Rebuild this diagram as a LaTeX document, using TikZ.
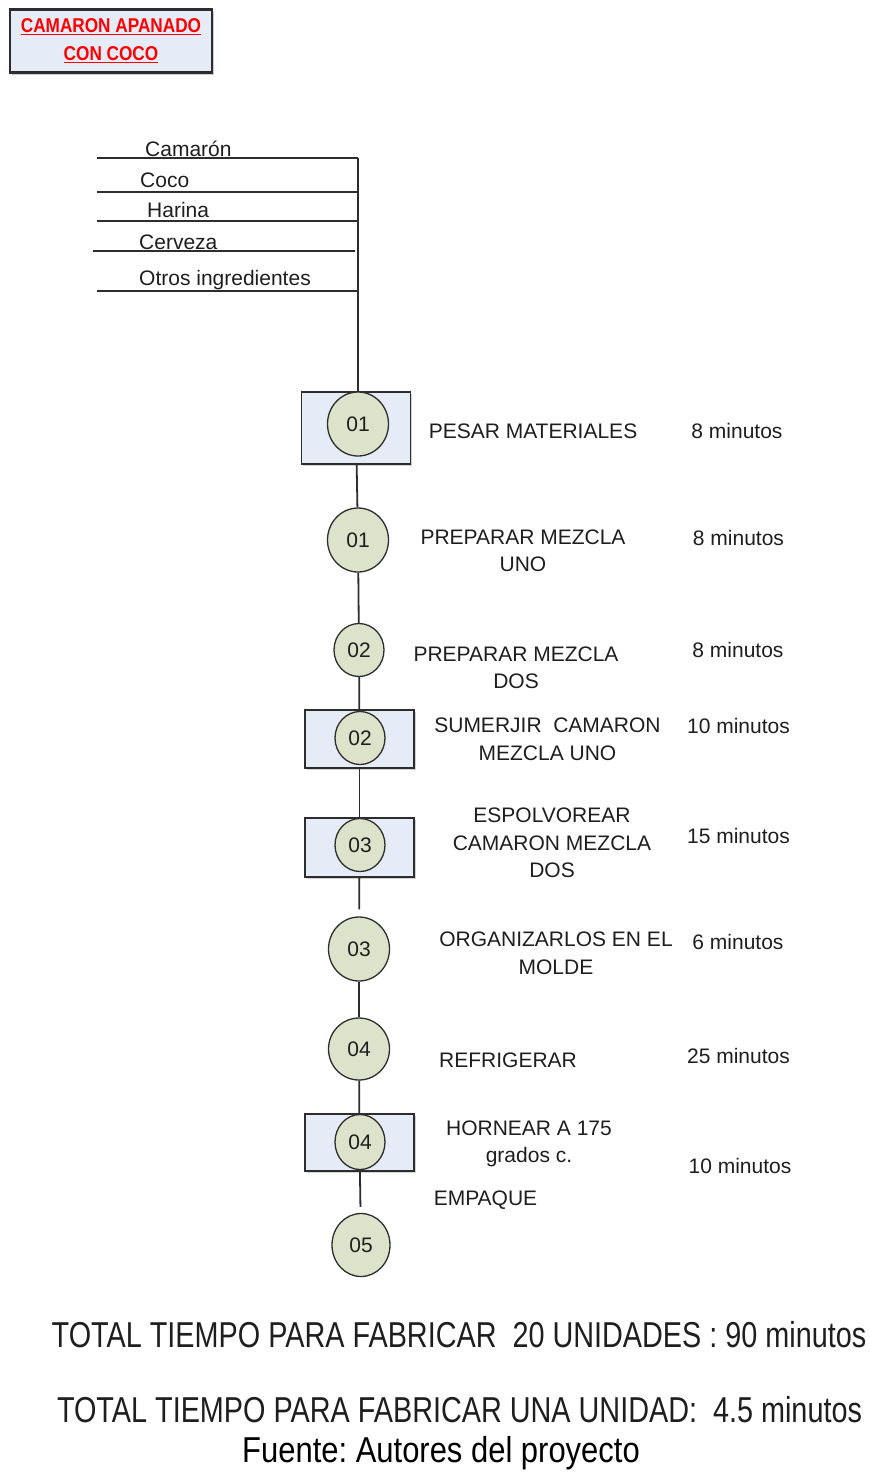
\documentclass[tikz,border=0pt]{standalone}
\usepackage{fontspec}
\setmainfont{Liberation Sans}
\newfontfamily\titlefont[FakeStretch=0.86]{Liberation Sans}
\newfontfamily\narrowfont[FakeStretch=0.8]{Liberation Sans}
\newfontfamily\srcfont[FakeStretch=0.86]{Liberation Sans}
\usetikzlibrary{shapes.geometric,shadows}
\definecolor{opfill}{RGB}{221,226,202}
\definecolor{boxfill}{RGB}{230,236,247}
\definecolor{edge}{RGB}{45,45,45}
\definecolor{ink}{RGB}{30,30,30}
\frenchspacing

\begin{document}
\begin{tikzpicture}[x=1pt, y=-1pt, auto,
      operation/.style ={ellipse, draw=edge, fill=opfill, line width=1.3pt, inner sep=0pt,
                         minimum width=61, minimum height=64, text=ink, font=\fontsize{21}{25}\selectfont},
      opsmall/.style ={operation, minimum width=50, minimum height=53},
      inspection/.style ={rectangle, draw=edge, fill=boxfill, line width=1.6pt, inner sep=0pt,
                          minimum width=109, minimum height=58,
                          drop shadow={shadow xshift=1.5pt, shadow yshift=-1.5pt, fill=gray!70}},
      label/.style ={align=center, text=ink, inner sep=0pt, font=\fontsize{21}{27.5}\selectfont},
      flow/.style ={draw=edge, line width=1.8pt}]
   \useasboundingbox (0,0) rectangle (870,1473);

   \node[rectangle, draw=edge, fill=boxfill, line width=2.2pt, minimum width=202, minimum height=63,
         inner sep=0pt, align=center, text=red, font=\titlefont\bfseries\fontsize{20}{28}\selectfont,
         drop shadow={shadow xshift=2pt, shadow yshift=-2pt, fill=gray!80}] (titulo) at (111,41)
         {\underline{CAMARON APANADO}\\\underline{CON COCO}};

   \coordinate (cam1) at (97,158);
   \coordinate (cam2) at (358,158);
   \coordinate (coc1) at (97,192);
   \coordinate (coc2) at (358,192);
   \coordinate (har1) at (97,221);
   \coordinate (har2) at (358,221);
   \coordinate (cer1) at (93,251);
   \coordinate (cer2) at (355,251);
   \coordinate (otr1) at (97,291);
   \coordinate (otr2) at (358,291);

   \node[label, anchor=base west] (tcam) at (145,156) {Camarón};
   \node[label, anchor=base west] (tcoc) at (140,187) {Coco};
   \node[label, anchor=base west] (thar) at (147,217) {Harina};
   \node[label, anchor=base west] (tcer) at (139,249) {Cerveza};
   \node[label, anchor=base west] (totr) at (139,285) {Otros ingredientes};

   \node[inspection, minimum height=72] (I1) at (356,428) {};
   \node[operation] (O1) at (358,424) {01};
   \node[operation] (O2) at (358,540) {01};
   \node[opsmall] (O3) at (359,650) {02};
   \node[inspection] (I2) at (359.5,739) {};
   \node[opsmall] (O4) at (360,738) {02};
   \node[inspection, minimum height=59] (I3) at (359.5,847.5) {};
   \node[opsmall] (O5) at (360,845) {03};
   \node[operation] (O6) at (359,949) {03};
   \node[operation, minimum height=62] (O7) at (359,1049) {04};
   \node[inspection, minimum height=57] (I4) at (359.5,1142.5) {};
   \node[opsmall, minimum height=55] (O8) at (360,1142) {04};
   \node[operation, minimum width=58, minimum height=63] (O9) at (361,1245) {05};

   \draw[flow] (cam1) to (cam2);
   \draw[flow] (coc1) to (coc2);
   \draw[flow] (har1) to (har2);
   \draw[flow] (cer1) to (cer2);
   \draw[flow] (otr1) to (otr2);
   \draw[flow] (cam2) to (cam2 |- I1.north);

   \draw[flow] (I1) to (O2);
   \draw[flow] (O2) to (O3);
   \draw[flow] (O3) to (I2);
   \draw[flow] (I2) to (I3);
   \draw[flow, shorten >=7pt] (I3) to (O6);
   \draw[flow] (O6) to (O7);
   \draw[flow] (O7) to (I4);
   \draw[flow, shorten >=6pt] (I4) to (O9);

   \node[label] (t1) at (533,431) {PESAR MATERIALES};
   \node[label] (t2) at (523,551) {PREPARAR MEZCLA\\UNO};
   \node[label] (t3) at (516,668) {PREPARAR MEZCLA\\DOS};
   \node[label] (t4) at (547.5,739.5) {SUMERJIR\ \ CAMARON\\MEZCLA UNO};
   \node[label] (t5) at (552,843) {ESPOLVOREAR\\CAMARON MEZCLA\\DOS};
   \node[label] (t6) at (556,953.5) {ORGANIZARLOS EN EL\\MOLDE};
   \node[label] (t7) at (508,1060) {REFRIGERAR};
   \node[label] (t8) at (529,1144) {HORNEAR A 175\\grados c.};
   \node[label] (t9) at (485.5,1200) {EMPAQUE};

   \node[label] (m1) at (737,431) {8 minutos};
   \node[label] (m2) at (738.5,538) {8 minutos};
   \node[label] (m3) at (738,650) {8 minutos};
   \node[label] (m4) at (738.5,726) {10 minutos};
   \node[label] (m5) at (738.5,836) {15 minutos};
   \node[label] (m6) at (738,942) {6 minutos};
   \node[label] (m7) at (738.5,1056) {25 minutos};
   \node[label] (m8) at (740,1166) {10 minutos};

   \node[label, font=\narrowfont\fontsize{36}{40}\selectfont] (total1) at (459,1335)
        {TOTAL TIEMPO PARA FABRICAR\ \ 20 UNIDADES : 90 minutos};
   \node[label, font=\narrowfont\fontsize{36}{40}\selectfont] (total2) at (459.5,1410)
        {TOTAL TIEMPO PARA FABRICAR UNA UNIDAD:\ \ 4.5 minutos};
   \node[label, text=black, font=\srcfont\fontsize{36}{40}\selectfont] (fuente) at (441,1453)
        {Fuente: Autores del proyecto};

 \end{tikzpicture}
\end{document}
